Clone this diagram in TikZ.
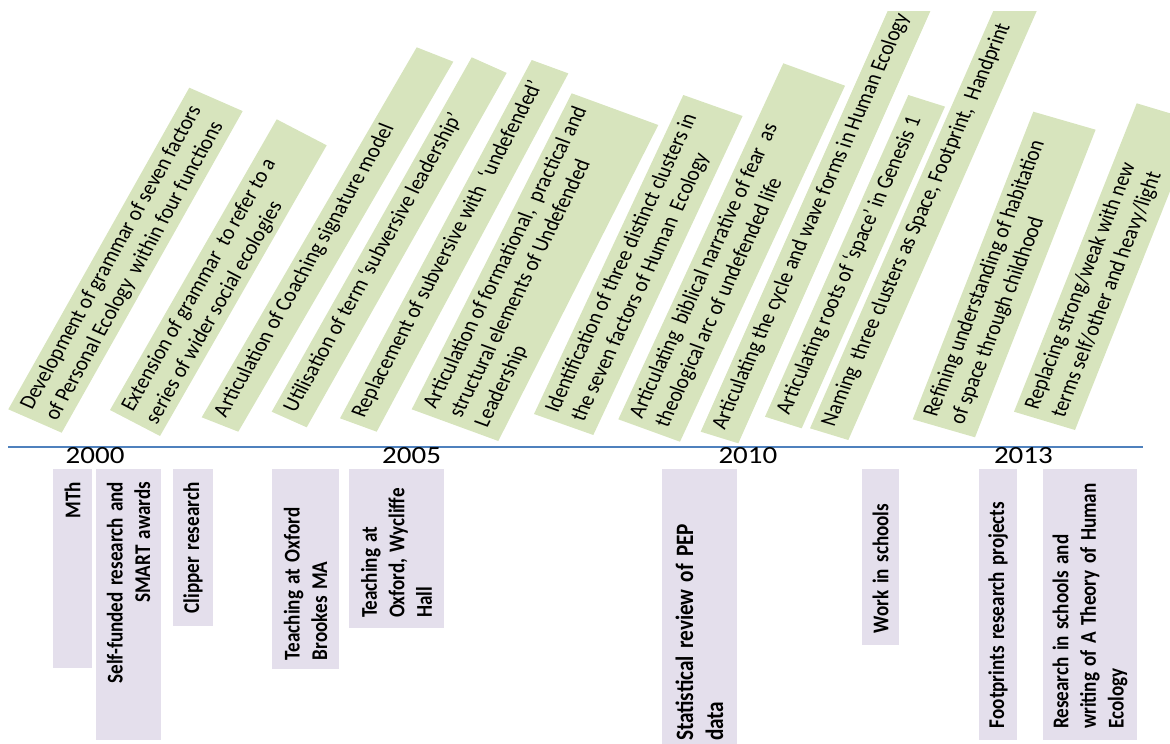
\documentclass[tikz,border=0pt]{standalone}
\usepackage{fontspec}
\setmainfont{Carlito}
\definecolor{bannergreen}{HTML}{D7E4BD}
\definecolor{boxlilac}{HTML}{E4DFEC}
\definecolor{axisblue}{HTML}{4F81BD}
% vertical compression of the whole drawing
\newcommand\ysq{0.85}
% \banner{name}{Ax}{Ay}{Bx}{By}{Dx}{Dy}{text}
% A = upper-left corner (start of text), B = upper-right corner, D = lower-left corner
\newcommand\banner[8]{%
  \pgfmathsetmacro\bL{veclen((#4)-(#2),((#5)-(#3))/\ysq)}%
  \pgfmathsetmacro\bT{veclen((#6)-(#2),((#7)-(#3))/\ysq)}%
  \pgfmathsetmacro\ua{((#4)-(#2))/\bL}%
  \pgfmathsetmacro\ub{((#3)-(#5))/\bL}%
  \pgfmathsetmacro\wa{((#2)-(#6))/\bT}%
  \pgfmathsetmacro\wb{((#7)-(#3))/\bT}%
  \begin{scope}[cm={\ua,\ub,\wa,\wb,(#2pt,-#3pt)},x=1pt,y=1pt]
    \fill[bannerfill] (0,0) rectangle (\bL,-\bT);
    \node[bannertext] (#1) at (9.2,-4.6) {\rule{0pt}{17.3pt}#8};
  \end{scope}}
\begin{document}
\begin{tikzpicture}[x=1pt,y=-1pt,
  bannerfill/.style={fill=bannergreen},
  bannertext/.style={transform shape, anchor=north west, inner sep=0pt,
    align=left, font=\fontsize{23}{28}\selectfont},
  lavbox/.style={fill=boxlilac, yscale=\ysq, rotate=90, inner xsep=0pt,
    inner ysep=0pt, font=\bfseries\fontsize{22.5}{27.5}\selectfont},
  yearlabel/.style={yscale=\ysq, anchor=base west, inner sep=0pt,
    font=\fontsize{29}{34}\selectfont},
  axis/.style={draw=axisblue, line width=1.5pt}]
\useasboundingbox (0,0) rectangle (1170,744);

% green milestone banners
\begin{scope}
\clip (0,11) rectangle (1170,744);
\banner{b1}{8.3}{409.3}{189.3}{87.7}{61.7}{432.7}{Development of grammar of seven factors\\of Personal Ecology\ \ within four functions}
\banner{b2}{110}{410}{276.7}{119.3}{160}{436}{Extension of grammar\ \ to refer to a\\series of wider social ecologies}
\banner{b3}{201.7}{417.3}{416.7}{47.3}{238.3}{431.7}{Articulation of Coaching signature model}
\banner{b4}{271.7}{411.7}{471.7}{57.3}{306.7}{427.3}{Utilisation of term ‘subversive leadership’}
\banner{b5}{340}{418.3}{531.7}{60}{376.7}{431.7}{Replacement of subversive with\ \ ‘undefended’}
\banner{b6}{411.7}{409.3}{571.7}{93.3}{498.3}{441}{Articulation of formational,\ \ practical and\\structural elements of Undefended\\Leadership}
\banner{b7}{534}{414}{683.3}{95}{593.3}{435}{Identification of three distinct clusters in\\the seven factors of Human\ \ Ecology}
\banner{b8}{618.3}{419.3}{783.3}{63.3}{680}{441.7}{Articulating\ \ biblical narrative of fear\ \ as\\theological arc of undefended life}
\banner{b9}{700.7}{431.7}{897}{-10}{738.3}{443.3}{Articulating the cycle and wave forms in Human Ecology}
\banner{b10}{765}{416.7}{908.3}{95}{801.7}{428.3}{Articulating roots of ‘space’ in Genesis 1}
\banner{b11}{810}{428.3}{1002.5}{-10}{848.3}{440}{Naming\ \ three clusters as Space, Footprint,\ \ Handprint}
\banner{b12}{912.7}{419.3}{1033.3}{111.7}{975}{437.3}{Refining understanding of habitation\\of space through childhood}
\banner{b13}{1014}{411.7}{1136.7}{103.3}{1075}{430}{Replacing strong/weak with new\\terms self/other and heavy/light}
\end{scope}

% time axis
\coordinate (axisstart) at (8,447);
\coordinate (axisend) at (1143,447);
\draw[axis] (axisstart) -- (axisend);

% years
\node[yearlabel] (y2000) at (65.5,463.3) {2000};
\node[yearlabel] (y2005) at (382,463.3) {2005};
\node[yearlabel] (y2010) at (718.3,463.3) {2010};
\node[yearlabel] (y2013) at (993.8,463.3) {2013};

% activity boxes
\node[lavbox, minimum width=234.1pt, minimum height=39pt, text width=204.1pt, align=right] (mth) at (72.5,568.5) {MTh};
\node[lavbox, minimum width=318.8pt, minimum height=65pt, text width=288.8pt, align=right] (selffunded) at (128.5,604.5) {Self-funded research and\\SMART awards};
\node[lavbox, minimum width=184.7pt, minimum height=40pt, text width=154.7pt, align=left] (clipper) at (193,547.5) {Clipper research};
\node[lavbox, minimum width=235.3pt, minimum height=67pt, text width=214.1pt, align=left] (brookes) at (305.5,569) {Teaching at Oxford\\Brookes MA};
\node[lavbox, minimum width=187.1pt, minimum height=95pt, text width=163.5pt, align=left] (wycliffe) at (396.5,548.5) {Teaching at\\Oxford, Wycliffe\\Hall};
\node[lavbox, minimum width=333pt, minimum height=75pt, text width=307pt, align=left, font=\bfseries\fontsize{25}{30}\selectfont] (pep) at (699.5,610.5) {Statistical review of PEP\\data};
\node[lavbox, minimum width=207pt, minimum height=37pt, text width=179pt, align=left] (schools) at (880.5,557) {Work in schools};
\node[lavbox, minimum width=318.8pt, minimum height=38pt, text width=290.8pt, align=left] (footprints) at (998,604.5) {Footprints research projects};
\node[lavbox, minimum width=318.8pt, minimum height=94pt, text width=292.8pt, align=left] (theory) at (1090,604.5) {Research in schools and\\writing of A Theory of Human\\Ecology};
\end{tikzpicture}
\end{document}
